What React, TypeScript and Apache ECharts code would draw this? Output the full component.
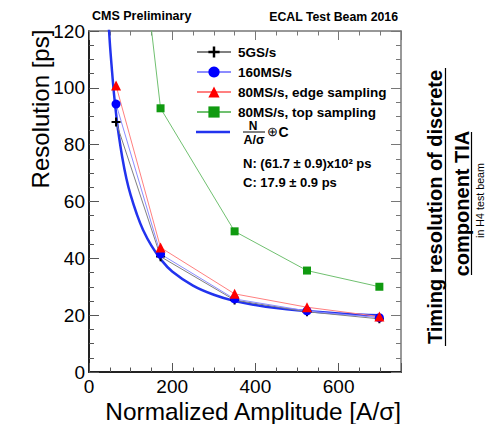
import React, { useEffect, useRef } from "react";
import * as echarts from "echarts";

const FONT = "'Liberation Sans', Arial, Helvetica, sans-serif";

// Normalized amplitude [A/σ] of the measured points
const amplitude = [65, 172, 350, 524, 698];
// Resolution [ps] for each sampling configuration
const res5GS = [88, 40.6, 25.3, 21.2, 18.7];
const res160MS = [94.3, 41.5, 25.7, 21.5, 19.1];
const res80Edge = [100.8, 43.8, 27.5, 22.8, 19.5];
const res80Top = [228, 92.8, 49.5, 35.7, 30];

// Fit curve N/(A/σ) ⊕ C
const fitAmp = [45, 50, 55, 60, 65, 70, 80, 90, 100, 115, 130, 150, 175, 200, 250, 300, 350, 400, 450, 500, 600, 700];
const fitRes = [128, 116, 106.5, 98, 91, 85, 75.5, 68, 62.3, 55.5, 50, 44.5, 39.2, 35.4, 30.4, 27.2, 25.0, 23.6, 22.5, 21.7, 20.6, 19.95];

const seriesNames = ["5GS/s", "160MS/s", "80MS/s, edge sampling", "80MS/s, top sampling"];
const fitName = "N/(A/σ) ⊕ C";
const FIT_COLOR = "#2233ee";

const xMajorLabels = [0, 200, 400, 600];
const yTicks = [0, 20, 40, 60, 80, 100, 120];

const pairs = (xs: number[], ys: number[]) => xs.map((x, i) => [x, ys[i]]);

const CROSS = "path://M3.9,0H6.1V3.9H10V6.1H6.1V10H3.9V6.1H0V3.9H3.9Z";

export default function App() {
  const ref = useRef<HTMLDivElement>(null);
  useEffect(() => {
    if (!ref.current) return;
    const chart = echarts.init(ref.current, undefined, { renderer: "svg" });
    const noLine = { show: false };
    const baseX = {
      type: "value" as const,
      min: 0,
      max: 750,
      splitLine: { show: false },
    };
    const baseY = {
      type: "value" as const,
      min: 0,
      max: 120,
      interval: 20,
      splitLine: { show: false },
      minorSplitLine: { show: false },
    };
    const dataSeries = (
      name: string,
      ys: number[],
      lineColor: string,
      markColor: string,
      symbol: string,
      size: number
    ) => ({
      name,
      type: "line",
      data: pairs(amplitude, ys),
      symbol,
      symbolSize: size,
      showSymbol: true,
      lineStyle: { color: lineColor, width: 1 },
      itemStyle: { color: markColor, borderWidth: 0 },
      color: markColor,
      z: 3,
    });
    chart.setOption({
      animation: false,
      backgroundColor: "#fff",
      textStyle: { fontFamily: FONT },
      grid: { left: 89, top: 31, width: 312, height: 341, containLabel: false },
      xAxis: [
        {
          ...baseX,
          position: "bottom",
          interval: 50,
          axisLine: { show: true, onZero: false, lineStyle: { color: "#222", width: 2 } },
          axisTick: { show: true, inside: true, length: 4.5, lineStyle: { color: "#555", width: 1 } },
          axisLabel: {
            formatter: (v: number) => (xMajorLabels.includes(v) ? String(v) : ""),
            fontSize: 19,
            color: "#000",
            margin: 5,
            fontFamily: FONT,
          },
        },
        {
          ...baseX,
          position: "bottom",
          interval: 200,
          axisLine: { show: false, onZero: false },
          axisTick: { show: true, inside: true, length: 9, lineStyle: { color: "#555", width: 1 } },
          axisLabel: noLine,
        },
        {
          ...baseX,
          position: "top",
          interval: 50,
          axisLine: { show: true, onZero: false, lineStyle: { color: "#777", width: 1.5 } },
          axisTick: { show: true, inside: true, length: 4.5, lineStyle: { color: "#777", width: 1 } },
          axisLabel: noLine,
        },
        {
          ...baseX,
          position: "top",
          interval: 200,
          axisLine: { show: false, onZero: false },
          axisTick: { show: true, inside: true, length: 9, lineStyle: { color: "#777", width: 1 } },
          axisLabel: noLine,
        },
      ],
      yAxis: [
        {
          ...baseY,
          position: "left",
          axisLine: { show: true, onZero: false, lineStyle: { color: "#222", width: 2 } },
          axisTick: { show: true, inside: true, length: 10, lineStyle: { color: "#555", width: 1 } },
          minorTick: { show: true, splitNumber: 4, length: 5, lineStyle: { color: "#555", width: 1 } },
          axisLabel: {
            formatter: (v: number) => (yTicks.includes(v) ? String(v) : ""),
            fontSize: 19,
            color: "#000",
            margin: 4,
            fontFamily: FONT,
          },
        },
        {
          ...baseY,
          position: "right",
          axisLine: { show: true, onZero: false, lineStyle: { color: "#777", width: 1.5 } },
          axisTick: { show: true, inside: true, length: 10, lineStyle: { color: "#777", width: 1 } },
          minorTick: { show: true, splitNumber: 4, length: 5, lineStyle: { color: "#777", width: 1 } },
          axisLabel: noLine,
        },
      ],
      legend: {
        orient: "vertical",
        left: 196,
        top: 45,
        padding: 0,
        itemWidth: 34,
        itemHeight: 14,
        itemGap: 6,
        data: seriesNames,
        textStyle: {
          fontFamily: FONT,
          fontWeight: "bold",
          fontSize: 13.5,
          lineHeight: 14,
          color: "#000",
          padding: [0, 0, 0, 2],
        },
      },
      series: [
        {
          name: fitName,
          type: "line",
          data: pairs(fitAmp, fitRes),
          smooth: 0.4,
          showSymbol: false,
          symbol: "none",
          lineStyle: { color: FIT_COLOR, width: 2.5 },
          itemStyle: { color: FIT_COLOR },
          color: FIT_COLOR,
          z: 2,
        },
        dataSeries(seriesNames[0], res5GS, "#808080", "#000000", CROSS, 9),
        dataSeries(seriesNames[1], res160MS, "#8c8cff", "#0000ff", "circle", 9),
        dataSeries(seriesNames[2], res80Edge, "#ff8080", "#ff0000", "triangle", 10),
        dataSeries(seriesNames[3], res80Top, "#70c070", "#109a10", "rect", 8),
      ],
      graphic: [
        {
          type: "text",
          x: 92,
          y: 16,
          style: { text: "CMS Preliminary", font: `bold 12.5px ${FONT}`, fill: "#000", verticalAlign: "middle" },
        },
        {
          type: "text",
          x: 398,
          y: 16.5,
          style: { text: "ECAL Test Beam 2016", font: `bold 12.3px ${FONT}`, fill: "#000", align: "right", verticalAlign: "middle" },
        },
        {
          type: "text",
          x: 40,
          y: 109,
          rotation: Math.PI / 2,
          style: { text: "Resolution [ps]", font: `24px ${FONT}`, fill: "#000", align: "center", verticalAlign: "middle" },
        },
        {
          type: "text",
          x: 401,
          y: 411,
          style: { text: "Normalized Amplitude [A/σ]", font: `24.4px ${FONT}`, fill: "#000", align: "right", verticalAlign: "middle" },
        },
        // fit legend entry: line sample, N over A/σ, ⊕ C
        { type: "line", shape: { x1: 196, y1: 132, x2: 230, y2: 132 }, style: { stroke: FIT_COLOR, lineWidth: 2.5 } },
        {
          type: "text",
          x: 253,
          y: 126,
          style: { text: "N", font: `bold 12px ${FONT}`, fill: "#000", align: "center", verticalAlign: "middle" },
        },
        { type: "line", shape: { x1: 243, y1: 132, x2: 265, y2: 132 }, style: { stroke: "#000", lineWidth: 1 } },
        {
          type: "text",
          x: 254,
          y: 139.5,
          style: { text: "A/σ", font: `bold 12.5px ${FONT}`, fill: "#000", align: "center", verticalAlign: "middle" },
        },
        {
          type: "text",
          x: 272,
          y: 131.5,
          style: { text: "⊕", font: `13px ${FONT}`, fill: "#000", align: "center", verticalAlign: "middle" },
        },
        {
          type: "text",
          x: 278.5,
          y: 131.5,
          style: { text: "C", font: `bold 14px ${FONT}`, fill: "#000", align: "left", verticalAlign: "middle" },
        },
        {
          type: "text",
          x: 243,
          y: 163,
          style: { text: "N: (61.7 ± 0.9)x10² ps", font: `bold 13px ${FONT}`, fill: "#000", verticalAlign: "middle" },
        },
        {
          type: "text",
          x: 243,
          y: 182,
          style: { text: "C: 17.9 ± 0.9 ps", font: `bold 13px ${FONT}`, fill: "#000", verticalAlign: "middle" },
        },
        // right-hand caption
        {
          type: "text",
          x: 435,
          y: 207,
          rotation: Math.PI / 2,
          style: { text: "Timing resolution of discrete", font: `bold 20px ${FONT}`, fill: "#000", align: "center", verticalAlign: "middle" },
        },
        { type: "line", shape: { x1: 445.5, y1: 68, x2: 445.5, y2: 346 }, style: { stroke: "#000", lineWidth: 1.2 } },
        {
          type: "text",
          x: 462,
          y: 203.5,
          rotation: Math.PI / 2,
          style: { text: "component TIA", font: `bold 20px ${FONT}`, fill: "#000", align: "center", verticalAlign: "middle" },
        },
        { type: "line", shape: { x1: 471.5, y1: 132, x2: 471.5, y2: 275 }, style: { stroke: "#000", lineWidth: 1.2 } },
        {
          type: "text",
          x: 480,
          y: 200.5,
          rotation: Math.PI / 2,
          style: { text: "in H4 test beam", font: `10.7px ${FONT}`, fill: "#000", align: "center", verticalAlign: "middle" },
        },
      ],
    });
    return () => chart.dispose();
  }, []);
  return (
    <div
      ref={ref}
      style={{ position: "fixed", left: 0, top: 0, width: 488, height: 424, background: "#fff" }}
    />
  );
}
